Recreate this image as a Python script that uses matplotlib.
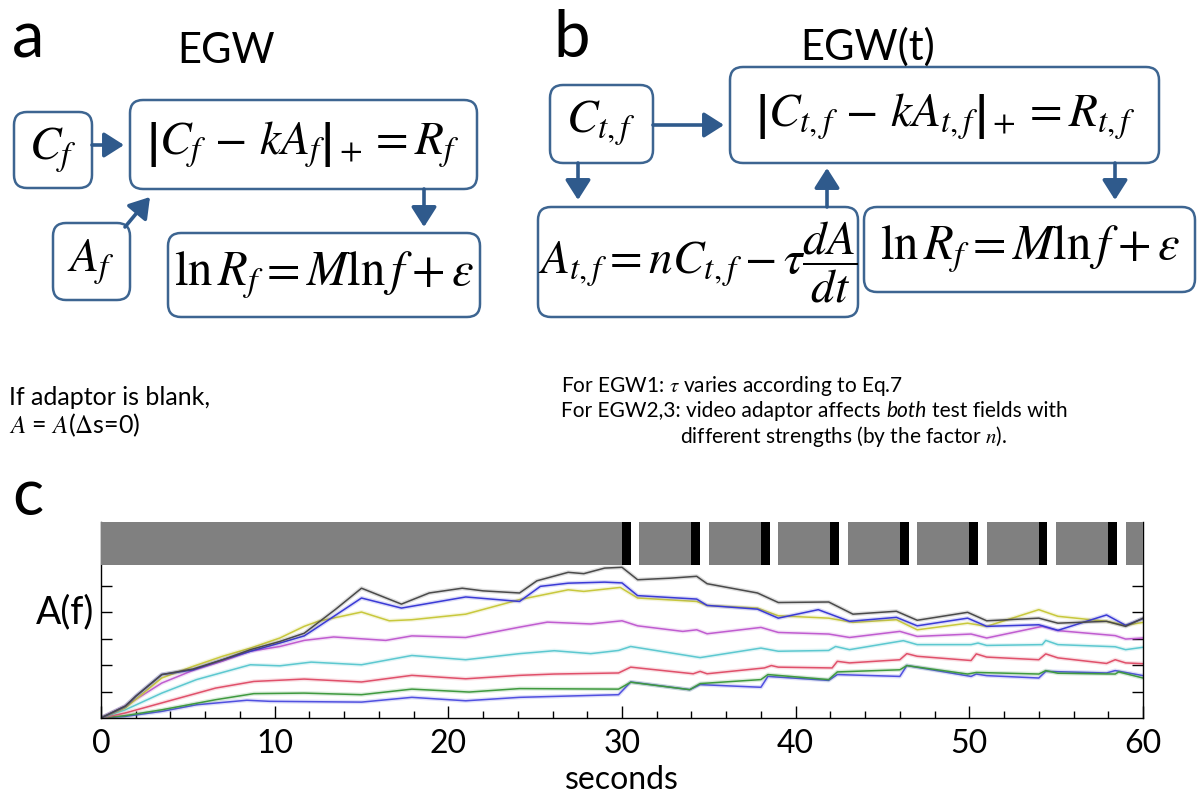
import numpy as np
import matplotlib
matplotlib.use("Agg")
import matplotlib.pyplot as plt
from matplotlib.patches import FancyBboxPatch

plt.rcParams['font.family'] = ['Lato', 'DejaVu Sans']
plt.rcParams['mathtext.fontset'] = 'stix'

# adaptation traces A(f), one per spatial frequency (time in s, value)
t1 = [0, 1.4, 3.5, 5.5, 8.4, 9.7, 15.0, 17.9, 21.0, 24.1, 29.8, 30.5, 33.9, 34.5, 38.0, 38.4, 41.9, 42.4,
      46.0, 46.4, 50.1, 50.4, 51.0, 54.0, 54.4, 57.9, 58.4, 60]
a1 = [0, 0.06, 0.25, 0.5, 0.67, 0.63, 0.6, 0.78, 0.65, 0.78, 0.88, 1.36, 1.07, 1.26, 1.16, 1.57, 1.42, 1.64,
      1.57, 1.98, 1.57, 1.66, 1.6, 1.51, 1.76, 1.7, 1.79, 1.6]
t2 = [0, 1.4, 3.5, 6.6, 8.8, 11.7, 15.0, 17.9, 21.2, 24.1, 29.8, 30.5, 33.9, 34.5, 38.0, 38.4, 41.9, 42.4,
      46.0, 46.4, 49.9, 50.4, 54.0, 54.4, 55.1, 58.4, 58.6, 60]
a2 = [0, 0.09, 0.31, 0.69, 0.92, 0.94, 0.88, 1.09, 0.98, 1.11, 1.09, 1.35, 1.07, 1.3, 1.45, 1.64, 1.45, 1.74,
      1.82, 1.98, 1.66, 1.72, 1.66, 1.79, 1.69, 1.66, 1.74, 1.51]
t3 = [0, 1.4, 3.5, 6.6, 8.8, 11.7, 15.0, 17.9, 21.0, 24.1, 26.1, 29.8, 30.5, 34.1, 34.5, 34.9, 38.2, 38.6,
      39.0, 42.1, 42.4, 43.1, 46.0, 46.4, 47.0, 50.1, 50.4, 51.0, 54.0, 54.4, 55.1, 57.9, 58.4, 59.0, 60]
a3 = [0, 0.19, 0.57, 1.13, 1.38, 1.47, 1.36, 1.61, 1.48, 1.61, 1.66, 1.7, 1.92, 1.67, 1.76, 1.67, 1.89, 1.98,
      1.92, 1.89, 2.14, 2.08, 2.2, 2.43, 2.33, 2.17, 2.42, 2.3, 2.2, 2.42, 2.27, 2.06, 2.2, 2.08, 2.05]
t4 = [0, 1.4, 3.5, 5.5, 8.6, 10.3, 12.1, 15.0, 17.9, 21.0, 24.1, 26.1, 28.2, 29.8, 30.5, 34.5, 38.0, 39.0,
      41.9, 42.3, 43.1, 46.2, 47.0, 50.1, 50.5, 51.0, 54.2, 54.4, 55.1, 58.4, 59.0, 60]
a4 = [0, 0.31, 0.94, 1.45, 2.01, 1.97, 2.11, 2.01, 2.36, 2.2, 2.43, 2.54, 2.43, 2.55, 2.70, 2.28, 2.64, 2.52,
      2.55, 2.70, 2.58, 2.92, 2.77, 2.77, 2.83, 2.74, 2.77, 2.93, 2.77, 2.69, 2.58, 2.67]
t5 = [0, 1.4, 3.5, 5.3, 7.0, 8.6, 10.3, 11.7, 13.4, 15.0, 16.4, 17.9, 21.0, 24.1, 25.7, 28.2, 30.0, 30.9,
      33.5, 34.3, 34.9, 38.0, 39.0, 41.9, 43.1, 46.0, 47.0, 50.1, 51.0, 54.2, 55.1, 58.4, 59.0, 60]
a5 = [0, 0.45, 1.32, 1.8, 2.15, 2.52, 2.7, 2.93, 3.06, 2.99, 2.93, 3.1, 3.04, 3.43, 3.62, 3.55, 3.67, 3.48,
      3.27, 3.33, 3.18, 3.42, 3.23, 3.17, 3.04, 3.27, 3.08, 3.17, 3.02, 3.46, 3.3, 3.11, 2.98, 3.02]
t6 = [0, 1.4, 3.5, 5.3, 7.0, 8.6, 10.3, 11.7, 12.5, 15.0, 16.6, 17.9, 21.0, 24.1, 26.9, 27.8, 29.9, 30.9,
      34.3, 34.9, 37.8, 39.0, 41.9, 43.3, 45.8, 47.0, 49.9, 51.0, 54.0, 55.1, 57.9, 59.0, 60]
a6 = [0, 0.38, 1.51, 1.95, 2.33, 2.64, 3.02, 3.46, 3.65, 4.0, 3.67, 3.71, 3.92, 4.47, 4.84, 4.78, 4.93, 4.53,
      4.4, 4.25, 4.15, 3.86, 3.77, 3.61, 3.71, 3.33, 3.58, 3.46, 4.09, 3.84, 3.65, 3.5, 3.61]
t7 = [0, 1.4, 2.0, 3.5, 5.3, 7.0, 8.6, 10.3, 11.7, 12.1, 15.0, 17.3, 21.0, 24.1, 25.3, 26.9, 29.0, 30.0,
      30.9, 34.3, 34.9, 37.8, 39.0, 41.3, 43.1, 45.8, 47.0, 49.9, 51.0, 54.0, 55.1, 57.9, 59.0, 60]
a7 = [0, 0.44, 0.82, 1.64, 1.82, 2.2, 2.52, 2.83, 3.1, 3.27, 4.53, 4.15, 4.57, 4.4, 4.97, 5.09, 5.13, 5.1,
      4.62, 4.49, 4.25, 4.11, 3.77, 4.09, 3.65, 3.8, 3.48, 3.77, 3.46, 3.52, 3.31, 3.89, 3.5, 3.75]
t8 = [0, 1.4, 2.0, 3.5, 5.3, 7.0, 8.6, 10.3, 11.7, 13.5, 15.0, 17.3, 18.9, 20.8, 22.0, 24.1, 25.1, 26.9,
      27.8, 29.0, 30.0, 30.9, 32.8, 34.3, 34.9, 37.8, 39.0, 41.9, 43.3, 45.8, 47.0, 49.9, 51.0, 54.0, 55.1,
      57.9, 59.0, 60]
a8 = [0, 0.45, 0.82, 1.64, 1.85, 2.2, 2.58, 2.89, 3.2, 4.1, 4.9, 4.3, 4.72, 4.9, 4.8, 4.72, 5.18, 5.5,
      5.45, 5.66, 5.69, 5.22, 5.28, 5.35, 5.07, 4.72, 4.36, 4.38, 3.92, 4.03, 3.69, 3.99, 3.67, 3.77, 3.58,
      3.65, 3.46, 3.77]
trace_colors = ['#5050e0', '#3f9a3f', '#e0506a', '#5cc8d0', '#c05cd0', '#c8c83c', '#3a3ad6', '#4a4a4a']

# stimulus bar: grey adaptor, black test flash, white blank
grey_start = [0, 31, 35, 39, 43, 47, 51, 55, 59]
grey_end = [30, 34, 38, 42, 46, 50, 54, 58, 60]
flash_start = [30, 34, 38, 42, 46, 50, 54, 58]
flash_len = 0.5

W, H = 1197, 793
fig = plt.figure(figsize=(W / 100, H / 100), dpi=100)

# overlay in pixel coordinates for the model diagrams
ov = fig.add_axes([0, 0, 1, 1])
ov.set_xlim(0, W)
ov.set_ylim(H, 0)
ov.axis('off')

edge = '#3d6591'
arrow_c = '#2f5a8c'


def box(x0, y0, x1, y1):
    ov.add_patch(FancyBboxPatch((x0, y0), x1 - x0, y1 - y0,
                                boxstyle="round,pad=0,rounding_size=13",
                                fc='none', ec=edge, lw=1.8))


def arrow(x0, y0, x1, y1):
    ov.annotate('', xy=(x1, y1), xytext=(x0, y0),
                arrowprops=dict(arrowstyle='-|>,head_length=0.55,head_width=0.35',
                                color=arrow_c, lw=2.6, mutation_scale=22,
                                shrinkA=0, shrinkB=0))


def eq(x, y, s, size=34):
    ov.text(x, y, s, ha='center', va='center', fontsize=size)


# panel a
ov.text(12, 57, 'a', fontsize=47, va='baseline')
ov.text(177, 63, 'EGW', fontsize=30, va='baseline')
box(14, 112, 92, 188)
eq(53, 150, r'$C_f$')
box(130, 100, 477, 189)
eq(303, 145, r'$\left|C_f \,-\, kA_f\right|_+ = R_f$')
box(53, 223, 130, 300)
eq(91, 262, r'$A_f$')
box(168, 233, 480, 317)
eq(324, 275, r'$\ln R_f = M\ln f + \varepsilon$', 35)
arrow(92, 145, 124, 145)
arrow(424, 189, 424, 227)
arrow(125, 227, 150, 197)

ov.text(9, 405, 'If adaptor is blank,', fontsize=18, va='baseline')
ov.text(9, 433, r'$A$ = $A$($\Delta$s=0)', fontsize=18, va='baseline')

# panel b
ov.text(553, 57, 'b', fontsize=47, va='baseline')
ov.text(800, 60, 'EGW(t)', fontsize=30, va='baseline')
box(550, 85, 653, 163)
eq(601, 123, r'$C_{t,f}$')
box(730, 67, 1159, 163)
eq(945, 117, r'$\left|C_{t,f} \,-\, kA_{t,f}\right|_+ = R_{t,f}$')
box(538, 207, 858, 317)
eq(698, 262, r'$A_{t,f} = nC_{t,f} - \tau\dfrac{dA}{dt}$')
box(864, 207, 1195, 292)
eq(1030, 249, r'$\ln R_f = M\ln f + \varepsilon$', 35)
arrow(653, 125, 724, 125)
arrow(578, 163, 578, 200)
arrow(827, 207, 827, 168)
arrow(1115, 163, 1115, 200)

fs_b = 15
ov.text(561, 392, r'For EGW1: $\tau$ varies according to Eq.7', fontsize=fs_b, va='baseline')
l2 = ov.text(561, 417, 'For EGW2,3: video adaptor affects', fontsize=fs_b, va='baseline')
l2b = ov.annotate('both', xy=(1, 0), xycoords=l2, xytext=(4, 0), textcoords='offset points',
                  fontsize=fs_b, style='italic', va='bottom')
ov.annotate('test fields with', xy=(1, 0), xycoords=l2b, xytext=(4, 0), textcoords='offset points',
            fontsize=fs_b, va='bottom')
ov.text(680, 443, r'different strengths (by the factor $n$).', fontsize=fs_b, va='baseline')

# panel c
ov.text(12, 515, 'c', fontsize=47, va='baseline')
ov.text(94, 612, 'A(f)', fontsize=27, ha='right', va='center')

ax = fig.add_axes([101 / W, 1 - 718 / H, 1042 / W, 196 / H])
ax.set_xlim(0, 60)
ax.set_ylim(0, 7.4)

for ts, vs, c in zip([t1, t2, t3, t4, t5, t6, t7, t8],
                     [a1, a2, a3, a4, a5, a6, a7, a8], trace_colors):
    ax.plot(ts, vs, color=c, lw=3, alpha=0.18, solid_joinstyle='round')
    ax.plot(ts, vs, color=c, lw=1.1)

bar_y, bar_h = 5.76, 7.4 - 5.76
ax.broken_barh([(s, e - s) for s, e in zip(grey_start, grey_end)], (bar_y, bar_h),
               facecolor='#808080', zorder=3)
ax.broken_barh([(s, flash_len) for s in flash_start], (bar_y, bar_h),
               facecolor='black', zorder=3)

ax.spines['top'].set_visible(False)
for sp in ['left', 'right', 'bottom']:
    ax.spines[sp].set_linewidth(1.0)
ax.set_xticks(np.arange(0, 61, 10))
ax.set_xticks(np.arange(0, 61, 2), minor=True)
ax.set_yticks([1, 2, 3, 4, 5])
ax.set_yticklabels([])
ax.tick_params(axis='x', which='major', direction='in', length=8.5, width=1, labelsize=23, pad=8)
ax.tick_params(axis='x', which='minor', direction='in', length=5, width=1)
ax.tick_params(axis='y', direction='in', length=8, width=1, left=True, right=True)
ax.set_xlabel('seconds', fontsize=23, labelpad=4)

fig.savefig('out.png', dpi=100)
